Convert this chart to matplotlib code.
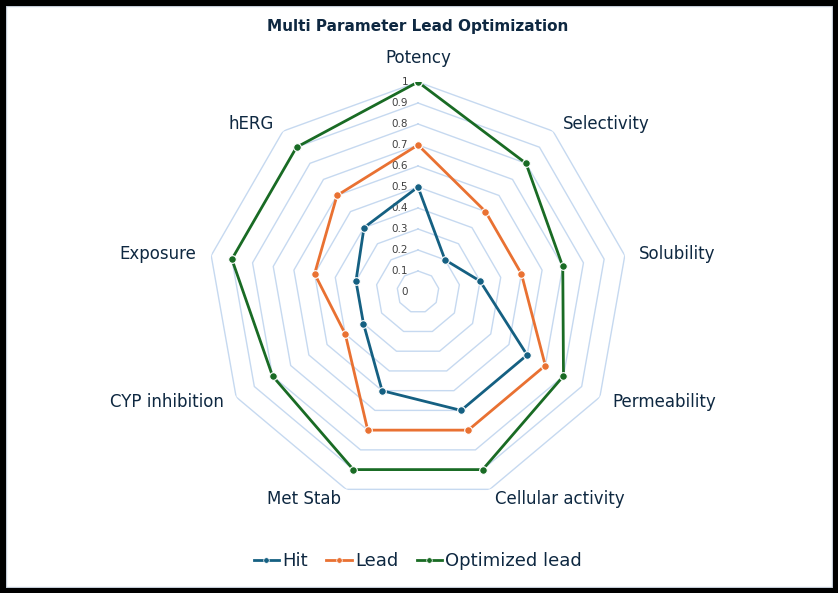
import numpy as np
import matplotlib.pyplot as plt
from matplotlib.patches import Rectangle
from matplotlib.lines import Line2D

categories = ['Potency', 'Selectivity', 'Solubility', 'Permeability', 'Cellular activity',
              'Met Stab', 'CYP inhibition', 'Exposure', 'hERG']
hit = [0.5, 0.2, 0.3, 0.6, 0.6, 0.5, 0.3, 0.3, 0.4]
lead = [0.7, 0.5, 0.5, 0.7, 0.7, 0.7, 0.4, 0.5, 0.6]
optimized = [1.0, 0.8, 0.7, 0.8, 0.9, 0.9, 0.8, 0.9, 0.9]
series_names = ['Hit', 'Lead', 'Optimized lead']
ring_values = [0, 0.1, 0.2, 0.3, 0.4, 0.5, 0.6, 0.7, 0.8, 0.9, 1.0]
ring_labels = ['0', '0.1', '0.2', '0.3', '0.4', '0.5', '0.6', '0.7', '0.8', '0.9', '1']

colors = ['#156082', '#E97132', '#196B24']
text_color = '#0E2841'
grid_color = '#C6D9F0'

W, H = 838, 593
fig = plt.figure(figsize=(W / 100, H / 100), dpi=100)
cx, cy, R = 418, 292, 210
ax = fig.add_axes([(cx - R) / W, (H - cy - R) / H, 2 * R / W, 2 * R / H], projection='polar')
ax.set_theta_offset(np.pi / 2)
ax.set_theta_direction(-1)
ax.set_ylim(0, 1)
ax.grid(False)
ax.spines['polar'].set_visible(False)
ax.set_xticks([])
ax.set_yticks([])
ax.patch.set_alpha(0)

n = len(categories)
theta = np.arange(n) * 2 * np.pi / n
theta_closed = np.append(theta, theta[0])

# polygon gridlines
for rv in ring_values[1:]:
    ax.plot(theta_closed, [rv] * (n + 1), color=grid_color, lw=1.0, zorder=1)

# radial tick labels
for rv, lab in zip(ring_values, ring_labels):
    ax.annotate(lab, xy=(0, rv), xytext=(-7, 0), textcoords='offset points',
                ha='right', va='center', fontsize=7.5, color='#404040', zorder=2,
                annotation_clip=False)

for vals, c in zip([hit, lead, optimized], colors):
    v = np.append(vals, vals[0])
    ax.plot(theta_closed, v, color=c, lw=2.0, marker='o', markersize=5.5,
            markeredgecolor='white', markeredgewidth=0.8, zorder=3)

# category labels, nudged toward the horizontal like Excel does
for t, lab in zip(theta, categories):
    deg = np.degrees(t)
    if deg == 0:
        ha, va = 'center', 'bottom'
    elif deg < 180:
        ha, va = 'left', 'center'
    else:
        ha, va = 'right', 'center'
    dy = -3.5 * np.cos(t) if deg != 0 else 0
    ax.annotate(lab, xy=(t, 1.07), xytext=(0, dy), textcoords='offset points',
                ha=ha, va=va, fontsize=12, color=text_color, annotation_clip=False)

fig.text(cx / W, 1 - 27 / H, 'Multi Parameter Lead Optimization', ha='center', va='center',
         fontsize=11, fontweight='bold', color=text_color)

handles = [Line2D([0], [0], color=c, lw=2, marker='o', markersize=4,
                  markeredgecolor='white', markeredgewidth=0.5) for c in colors]
fig.legend(handles, series_names, loc='center', bbox_to_anchor=(cx / W, 1 - 561 / H),
           ncol=3, frameon=False, fontsize=13, handlelength=1.4, handletextpad=0.2,
           columnspacing=1.0, labelcolor=text_color)

fig.patches.append(Rectangle((6 / W, 6 / H), 1 - 12 / W, 1 - 12 / H, transform=fig.transFigure,
                             fill=False, edgecolor='#D0D8E4', lw=1))
fig.patches.append(Rectangle((0, 0), 1, 1, transform=fig.transFigure,
                             fill=False, edgecolor='black', lw=8))

fig.savefig('out.png', dpi=100)
